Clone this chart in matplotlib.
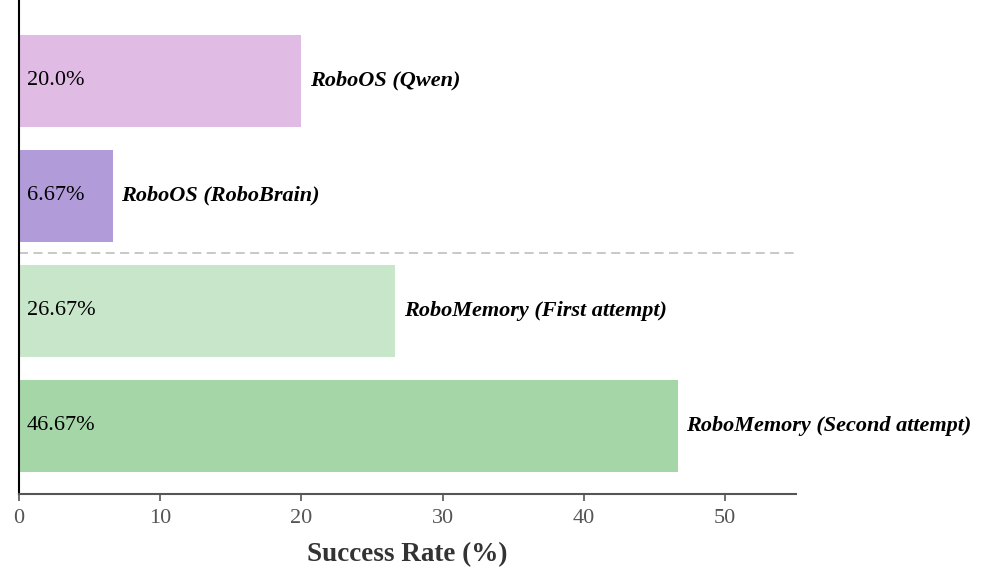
import matplotlib.pyplot as plt

# data (bottom to top)
names = ["RoboMemory (Second attempt)", "RoboMemory (First attempt)",
         "RoboOS (RoboBrain)", "RoboOS (Qwen)"]
rates = [46.67, 26.67, 6.67, 20.0]
rate_labels = ["46.67%", "26.67%", "6.67%", "20.0%"]
colors = ["#A5D6A7", "#C8E6C9", "#B19CD9", "#E0BBE4"]
xticks = [0, 10, 20, 30, 40, 50]

plt.rcParams['font.family'] = ['Liberation Serif', 'DejaVu Serif']

fig, ax = plt.subplots(figsize=(9.86, 5.83), dpi=100)
fig.subplots_adjust(left=0.019, right=0.807, top=1.0, bottom=0.153)

ypos = list(range(len(names)))
ax.barh(ypos, rates, height=0.8, color=colors)

for y, v, lab, name in zip(ypos, rates, rate_labels, names):
    ax.text(0.55, y, lab, va='center', ha='left', fontsize=16, color='black')
    ax.text(v + 0.6, y, name, va='center', ha='left', fontsize=16,
            fontweight='bold', fontstyle='italic', color='black')

# separator between the two groups
ax.axhline(1.5, color='#c4c4c4', linestyle=(0, (5, 3)), linewidth=1.3)

ax.set_xlim(0, 55)
ax.set_ylim(-0.59, 3.7)
ax.set_xticks(xticks)
ax.set_yticks([])
ax.tick_params(axis='x', colors='#555555', labelsize=16, length=5, width=1.2,
               pad=6)

ax.spines['top'].set_visible(False)
ax.spines['right'].set_visible(False)
ax.spines['left'].set_color('black')
ax.spines['left'].set_linewidth(1.5)
ax.spines['bottom'].set_color('#555555')
ax.spines['bottom'].set_linewidth(1.5)

ax.set_xlabel("Success Rate (%)", fontsize=19.5, fontweight='bold',
              color='#333333', labelpad=10)

plt.savefig("out.png", dpi=100)
